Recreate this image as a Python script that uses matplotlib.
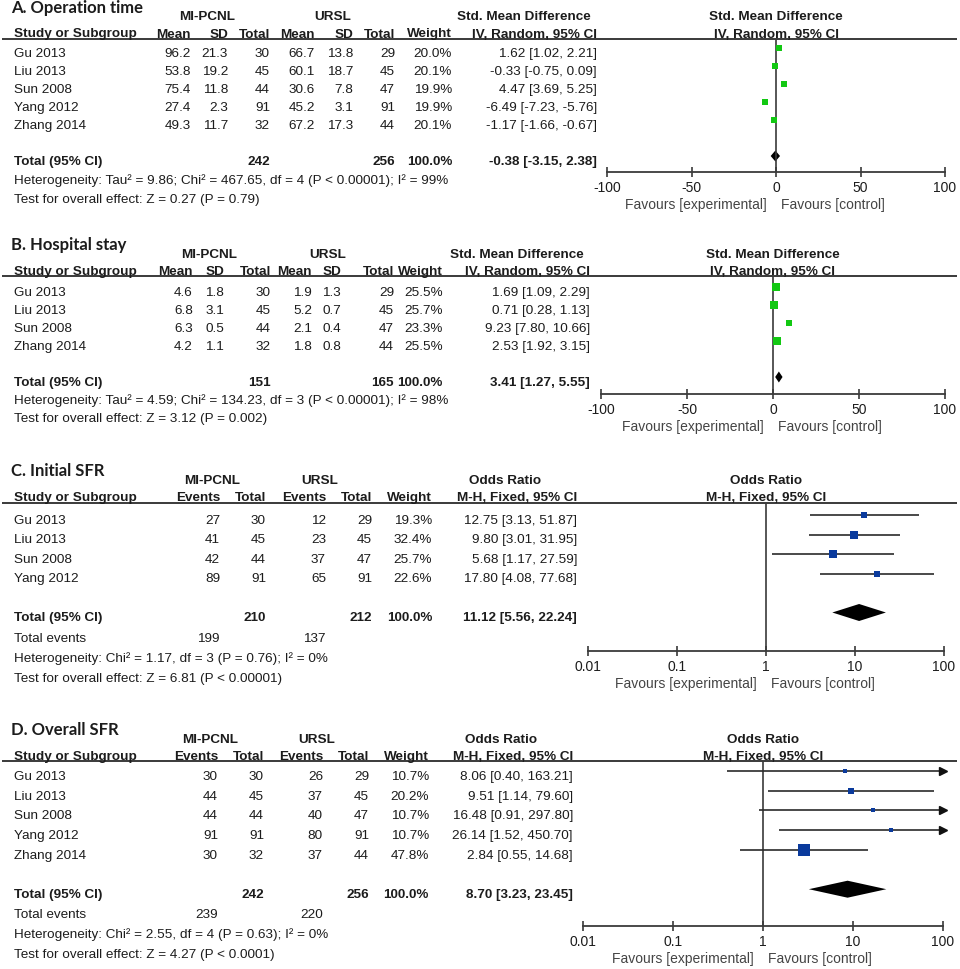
import numpy as np
import matplotlib.pyplot as plt
from matplotlib.transforms import blended_transform_factory

# ---------------- data ----------------
# A. Operation time (continuous, SMD IV random)
a_study = ['Gu 2013', 'Liu 2013', 'Sun 2008', 'Yang 2012', 'Zhang 2014']
a_e_mean = [96.2, 53.8, 75.4, 27.4, 49.3]
a_e_sd = [21.3, 19.2, 11.8, 2.3, 11.7]
a_e_n = [30, 45, 44, 91, 32]
a_c_mean = [66.7, 60.1, 30.6, 45.2, 67.2]
a_c_sd = [13.8, 18.7, 7.8, 3.1, 17.3]
a_c_n = [29, 45, 47, 91, 44]
a_weight = [20.0, 20.1, 19.9, 19.9, 20.1]
a_est = [1.62, -0.33, 4.47, -6.49, -1.17]
a_lo = [1.02, -0.75, 3.69, -7.23, -1.66]
a_hi = [2.21, 0.09, 5.25, -5.76, -0.67]
a_tot = [-0.38, -3.15, 2.38]
a_tot_n = [242, 256]
a_foot = ['Heterogeneity: Tau\u00b2 = 9.86; Chi\u00b2 = 467.65, df = 4 (P < 0.00001); I\u00b2 = 99%',
          'Test for overall effect: Z = 0.27 (P = 0.79)']

# B. Hospital stay
b_study = ['Gu 2013', 'Liu 2013', 'Sun 2008', 'Zhang 2014']
b_e_mean = [4.6, 6.8, 6.3, 4.2]
b_e_sd = [1.8, 3.1, 0.5, 1.1]
b_e_n = [30, 45, 44, 32]
b_c_mean = [1.9, 5.2, 2.1, 1.8]
b_c_sd = [1.3, 0.7, 0.4, 0.8]
b_c_n = [29, 45, 47, 44]
b_weight = [25.5, 25.7, 23.3, 25.5]
b_est = [1.69, 0.71, 9.23, 2.53]
b_lo = [1.09, 0.28, 7.80, 1.92]
b_hi = [2.29, 1.13, 10.66, 3.15]
b_tot = [3.41, 1.27, 5.55]
b_tot_n = [151, 165]
b_foot = ['Heterogeneity: Tau\u00b2 = 4.59; Chi\u00b2 = 134.23, df = 3 (P < 0.00001); I\u00b2 = 98%',
          'Test for overall effect: Z = 3.12 (P = 0.002)']

# C. Initial SFR (dichotomous, OR M-H fixed)
c_study = ['Gu 2013', 'Liu 2013', 'Sun 2008', 'Yang 2012']
c_e_ev = [27, 41, 42, 89]
c_e_n = [30, 45, 44, 91]
c_c_ev = [12, 23, 37, 65]
c_c_n = [29, 45, 47, 91]
c_weight = [19.3, 32.4, 25.7, 22.6]
c_est = [12.75, 9.80, 5.68, 17.80]
c_lo = [3.13, 3.01, 1.17, 4.08]
c_hi = [51.87, 31.95, 27.59, 77.68]
c_tot = [11.12, 5.56, 22.24]
c_tot_n = [210, 212]
c_tot_ev = [199, 137]
c_foot = ['Heterogeneity: Chi\u00b2 = 1.17, df = 3 (P = 0.76); I\u00b2 = 0%',
          'Test for overall effect: Z = 6.81 (P < 0.00001)']

# D. Overall SFR
d_study = ['Gu 2013', 'Liu 2013', 'Sun 2008', 'Yang 2012', 'Zhang 2014']
d_e_ev = [30, 44, 44, 91, 30]
d_e_n = [30, 45, 44, 91, 32]
d_c_ev = [26, 37, 40, 80, 37]
d_c_n = [29, 45, 47, 91, 44]
d_weight = [10.7, 20.2, 10.7, 10.7, 47.8]
d_est = [8.06, 9.51, 16.48, 26.14, 2.84]
d_lo = [0.40, 1.14, 0.91, 1.52, 0.55]
d_hi = [163.21, 79.60, 297.80, 450.70, 14.68]
d_tot = [8.70, 3.23, 23.45]
d_tot_n = [242, 256]
d_tot_ev = [239, 220]
d_foot = ['Heterogeneity: Chi\u00b2 = 2.55, df = 4 (P = 0.63); I\u00b2 = 0%',
          'Test for overall effect: Z = 4.27 (P < 0.0001)']

smd_ticks = [-100, -50, 0, 50, 100]
or_ticks = [0.01, 0.1, 1, 10, 100]

# ---------------- style ----------------
W, H = 960, 970
FONT = 'Liberation Sans'
FS = 9.7
TXT = '#1c1c1c'
GREY = '#3a3a3a'
GREEN = '#12c812'
BLUE = '#0a3a9c'

fig = plt.figure(figsize=(W / 100, H / 100), dpi=100)
bg = fig.add_axes([0, 0, 1, 1])
bg.set_xlim(0, W)
bg.set_ylim(H, 0)
bg.axis('off')


def txt(x, y, s, ha='left', bold=False, size=FS, color=TXT, family=FONT):
    bg.text(x, y, s, ha=ha, va='baseline', fontsize=size, family=family,
            fontweight='bold' if bold else 'normal', color=color)


def panel(title, line, sq0, dy, fdy, axis_y, fx, cols, heads, group_x, eff_title,
          eff_sub, rows, tot_cells, ev_cells, foot, est, lo, hi, wts, tot, log, sq_col, dh):
    # left table
    txt(11, line - 27, title, bold=True, size=12, family='Lato')
    txt(group_x[0], line - 19, 'MI-PCNL', ha='center', bold=True)
    txt(group_x[1], line - 19, 'URSL', ha='center', bold=True)
    txt(group_x[2], line - 19, eff_title, ha='center', bold=True)
    txt(14, line - 2, 'Study or Subgroup', bold=True)
    for x, h in zip(cols, heads):
        txt(x, line - 2, h, ha='right', bold=True)
    bg.plot([2, 957], [line, line], color=GREY, lw=1.4, solid_capstyle='butt')

    n = len(rows)
    for i, r in enumerate(rows):
        yb = sq0 + i * dy + 8
        txt(14, yb, r[0])
        for x, s in zip(cols, r[1:]):
            txt(x, yb, s, ha='right')
    yt = sq0 + (n + 1) * dy + 8
    txt(14, yt, 'Total (95% CI)', bold=True)
    for x, s in tot_cells:
        txt(x, yt, s, ha='right', bold=True)
    k = 1
    if ev_cells:
        txt(14, yt + fdy, 'Total events')
        for x, s in ev_cells:
            txt(x, yt + fdy, s, ha='right')
        k = 2
    for j, s in enumerate(foot):
        txt(14, yt + (k + j) * fdy, s)

    # forest plot
    xl, xr = fx
    ax = fig.add_axes([xl / W, 1 - axis_y / H, (xr - xl) / W, (axis_y - line) / H])
    ax.patch.set_alpha(0)
    ticks = or_ticks if log else smd_ticks
    ref = 1 if log else 0
    if log:
        ax.set_xscale('log')
    ax.set_xlim(ticks[0], ticks[-1])
    ax.set_ylim((axis_y - sq0) / dy, (line - sq0) / dy)
    for s in ['top', 'left', 'right']:
        ax.spines[s].set_visible(False)
    ax.spines['bottom'].set_color(GREY)
    ax.spines['bottom'].set_linewidth(1.3)
    ax.set_yticks([])
    ax.set_xticks(ticks)
    ax.set_xticklabels([f'{t:g}' for t in ticks])
    ax.minorticks_off()
    ax.tick_params(axis='x', direction='inout', length=7, width=1.2, color=GREY,
                   pad=2, labelsize=FS + 0.3, labelcolor=TXT)
    for lab in ax.get_xticklabels():
        lab.set_family(FONT)
    ax.axvline(ref, color=GREY, lw=1.2)

    y = np.arange(n)
    top = ticks[-1]
    for yi, e, l, h, w in zip(y, est, lo, hi, wts):
        ax.plot([l, min(h, top)], [yi, yi], color='#2a2a2a', lw=1.2, solid_capstyle='butt')
        if h > top:
            ax.plot([top], [yi], marker='>', ms=5.5, color='#111111', clip_on=False)
        side = 1.78 + 0.2075 * w
        ax.plot([e], [yi], marker='s', ms=side * 0.72, color=sq_col, mec=sq_col, mew=0)
    yd = n + 1
    ax.fill([tot[1], tot[0], tot[2], tot[0]], [yd, yd - dh / dy, yd, yd + dh / dy],
            color='black', lw=0)

    tr = blended_transform_factory(ax.transData, bg.transData)
    ax.text(ref, line - 19, eff_title, transform=tr, ha='center', va='baseline',
            family=FONT, fontsize=FS, fontweight='bold', color=TXT)
    ax.text(ref, line - 2, eff_sub, transform=tr, ha='center', va='baseline',
            family=FONT, fontsize=FS, fontweight='bold', color=TXT)
    fav_y = axis_y + 36
    ax.annotate('Favours [experimental]', xy=(ref, fav_y), xycoords=tr, xytext=(-9, 0),
                textcoords='offset pixels', ha='right', va='baseline', family=FONT,
                fontsize=FS + 0.3, color='#444444')
    ax.annotate('Favours [control]', xy=(ref, fav_y), xycoords=tr, xytext=(5, 0),
                textcoords='offset pixels', ha='left', va='baseline', family=FONT,
                fontsize=FS + 0.3, color='#444444')


def ci(e, l, h):
    return f'{e:.2f} [{l:.2f}, {h:.2f}]'


# A
rows_a = [[s, f'{m1:.1f}', f'{s1:.1f}', str(n1), f'{m2:.1f}', f'{s2:.1f}', str(n2),
           f'{w:.1f}%', ci(e, l, h)]
          for s, m1, s1, n1, m2, s2, n2, w, e, l, h in
          zip(a_study, a_e_mean, a_e_sd, a_e_n, a_c_mean, a_c_sd, a_c_n, a_weight, a_est, a_lo, a_hi)]
cols_a = [191, 228, 270, 315, 353, 395, 452, 597]
panel('A. Operation time', 39.5, 49, 18, 19, 173, (607, 945), cols_a,
      ['Mean', 'SD', 'Total', 'Mean', 'SD', 'Total', 'Weight', 'IV, Random, 95% CI'],
      (207, 333, 524), 'Std. Mean Difference', 'IV, Random, 95% CI', rows_a,
      [(270, str(a_tot_n[0])), (395, str(a_tot_n[1])), (452, '100.0%'), (597, ci(*a_tot))],
      None, a_foot, a_est, a_lo, a_hi, a_weight, a_tot, False, GREEN, 5.5)

# B
rows_b = [[s, f'{m1:.1f}', f'{s1:.1f}', str(n1), f'{m2:.1f}', f'{s2:.1f}', str(n2),
           f'{w:.1f}%', ci(e, l, h)]
          for s, m1, s1, n1, m2, s2, n2, w, e, l, h in
          zip(b_study, b_e_mean, b_e_sd, b_e_n, b_c_mean, b_c_sd, b_c_n, b_weight, b_est, b_lo, b_hi)]
cols_b = [193, 224, 271, 312, 341, 394, 443, 590]
panel('B. Hospital stay', 277, 288, 18, 18, 395, (601, 945), cols_b,
      ['Mean', 'SD', 'Total', 'Mean', 'SD', 'Total', 'Weight', 'IV, Random, 95% CI'],
      (209, 328, 517), 'Std. Mean Difference', 'IV, Random, 95% CI', rows_b,
      [(271, str(b_tot_n[0])), (394, str(b_tot_n[1])), (443, '100.0%'), (590, ci(*b_tot))],
      None, b_foot, b_est, b_lo, b_hi, b_weight, b_tot, False, GREEN, 5.5)

# C
rows_c = [[s, str(e1), str(n1), str(e2), str(n2), f'{w:.1f}%', ci(e, l, h)]
          for s, e1, n1, e2, n2, w, e, l, h in
          zip(c_study, c_e_ev, c_e_n, c_c_ev, c_c_n, c_weight, c_est, c_lo, c_hi)]
cols_c = [220, 266, 326, 372, 432, 577]
panel('C. Initial SFR', 503.5, 516, 19.5, 20.3, 652, (588, 944), cols_c,
      ['Events', 'Total', 'Events', 'Total', 'Weight', 'M-H, Fixed, 95% CI'],
      (212, 320, 505), 'Odds Ratio', 'M-H, Fixed, 95% CI', rows_c,
      [(266, str(c_tot_n[0])), (372, str(c_tot_n[1])), (432, '100.0%'), (577, ci(*c_tot))],
      [(220, str(c_tot_ev[0])), (326, str(c_tot_ev[1]))],
      c_foot, c_est, c_lo, c_hi, c_weight, c_tot, True, BLUE, 8.5)

# D
rows_d = [[s, str(e1), str(n1), str(e2), str(n2), f'{w:.1f}%', ci(e, l, h)]
          for s, e1, n1, e2, n2, w, e, l, h in
          zip(d_study, d_e_ev, d_e_n, d_c_ev, d_c_n, d_weight, d_est, d_lo, d_hi)]
cols_d = [218, 264, 323, 369, 429, 573]
panel('D. Overall SFR', 762, 772, 19.7, 20, 927, (583, 943), cols_d,
      ['Events', 'Total', 'Events', 'Total', 'Weight', 'M-H, Fixed, 95% CI'],
      (210, 317, 501), 'Odds Ratio', 'M-H, Fixed, 95% CI', rows_d,
      [(264, str(d_tot_n[0])), (369, str(d_tot_n[1])), (429, '100.0%'), (573, ci(*d_tot))],
      [(218, str(d_tot_ev[0])), (323, str(d_tot_ev[1]))],
      d_foot, d_est, d_lo, d_hi, d_weight, d_tot, True, BLUE, 8.5)

fig.savefig('out.png', dpi=100)
